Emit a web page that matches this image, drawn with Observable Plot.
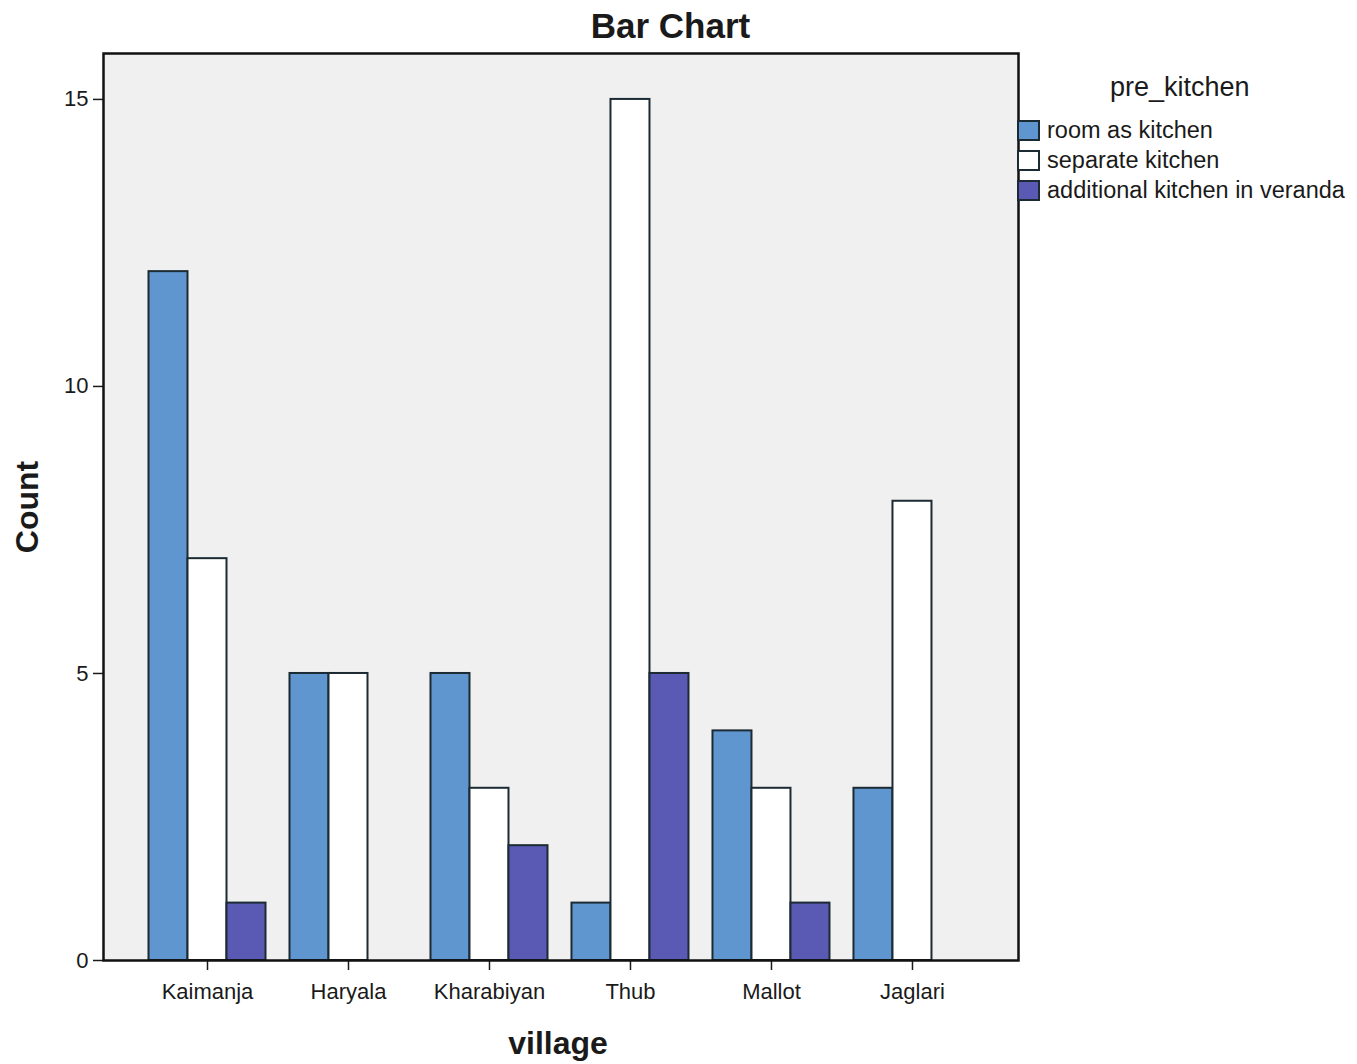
<!DOCTYPE html>
<html>
<head>
<meta charset="utf-8">
<script src="https://cdn.jsdelivr.net/npm/d3@7"></script>
<script src="https://cdn.jsdelivr.net/npm/@observablehq/plot@0.6"></script>
<style>
  html, body { margin: 0; padding: 0; background: #ffffff; }
  body { width: 1357px; height: 1064px; position: relative; font-family: "Liberation Sans", Arial, sans-serif; color: #1a1a1a; }
  #title { height: 48px; line-height: 52px; text-align: center; padding-right: 16px; font-size: 35px; font-weight: bold; }
  #legend { position: absolute; left: 1017px; top: 66px; }
  #legend .lt { font-size: 27px; margin-left: 93px; height: 49px; line-height: 42px; }
  #legend .item { display: flex; align-items: center; height: 30px; font-size: 23.5px; }
  #legend .sw { width: 23px; height: 21px; border: 2px solid #1b2a33; margin-right: 7px; box-sizing: border-box; }
</style>
</head>
<body>
<div id="title">Bar Chart</div>
<div id="chart"></div>
<div id="legend"></div>
<script>
const villages = ["Kaimanja", "Haryala", "Kharabiyan", "Thub", "Mallot", "Jaglari"];
const kitchens = ["room as kitchen", "separate kitchen", "additional kitchen in veranda"];
const roomAsKitchen = [12, 5, 5, 1, 4, 3];
const separateKitchen = [7, 5, 3, 15, 3, 8];
const additionalKitchen = [1, 0, 2, 5, 1, 0];
const yTicks = [0, 5, 10, 15];
const colors = ["#6096d0", "#ffffff", "#5a5ab4"];

const series = [roomAsKitchen, separateKitchen, additionalKitchen];
const rows = [];
villages.forEach((v, vi) => {
  kitchens.forEach((k, ki) => {
    rows.push({village: v, vi, kitchen: k, ki, count: series[ki][vi]});
  });
});
const bw = 0.2766; // bar width in village units

const plot = Plot.plot({
  width: 1357,
  height: 1016,
  marginTop: 5,
  marginBottom: 104,
  marginLeft: 103,
  marginRight: 339,
  style: {fontFamily: "Liberation Sans, Arial, sans-serif", fontSize: "22px", color: "#1a1a1a", background: "transparent"},
  x: {type: "linear", domain: [-0.7376, 5.752], axis: null},
  y: {domain: [0, 15.8], axis: null},
  color: {domain: kitchens, range: colors},
  marks: [
    Plot.frame({fill: "#f0f0f0", stroke: null}),
    Plot.rectY(rows.filter(d => d.count > 0), {
      x1: d => d.vi + (d.ki - 1.5) * bw,
      x2: d => d.vi + (d.ki - 0.5) * bw,
      y: "count",
      fill: "kitchen",
      stroke: "#1b2a33",
      strokeWidth: 2
    }),
    Plot.axisX({
      ticks: villages.map((_, i) => i),
      tickFormat: i => villages[i],
      tickSize: 10,
      tickPadding: 13,
      fontSize: 22,
      label: null,
      stroke: "#1a1a1a",
      strokeWidth: 1.5
    }),
    Plot.axisY({
      ticks: yTicks,
      tickSize: 10,
      tickPadding: 5,
      fontSize: 22,
      label: null,
      stroke: "#1a1a1a",
      strokeWidth: 1.5
    }),
    Plot.frame({stroke: "#111", strokeWidth: 2.5}),
    Plot.text(["Count"], {frameAnchor: "left", dx: -76, rotate: -90, fontSize: 32, fontWeight: "bold", textAnchor: "middle", lineAnchor: "middle", fill: "#1a1a1a"}),
    Plot.text(["village"], {frameAnchor: "bottom", dx: -3, dy: 83, fontSize: 32, fontWeight: "bold", textAnchor: "middle", lineAnchor: "middle", fill: "#1a1a1a"})
  ]
});
document.getElementById("chart").appendChild(plot);

const legend = document.getElementById("legend");
const lt = document.createElement("div");
lt.className = "lt";
lt.textContent = "pre_kitchen";
legend.appendChild(lt);
kitchens.forEach((k, i) => {
  const it = document.createElement("div");
  it.className = "item";
  const sw = document.createElement("div");
  sw.className = "sw";
  sw.style.background = colors[i];
  const tx = document.createElement("span");
  tx.textContent = k;
  it.appendChild(sw);
  it.appendChild(tx);
  legend.appendChild(it);
});
</script>
</body>
</html>
